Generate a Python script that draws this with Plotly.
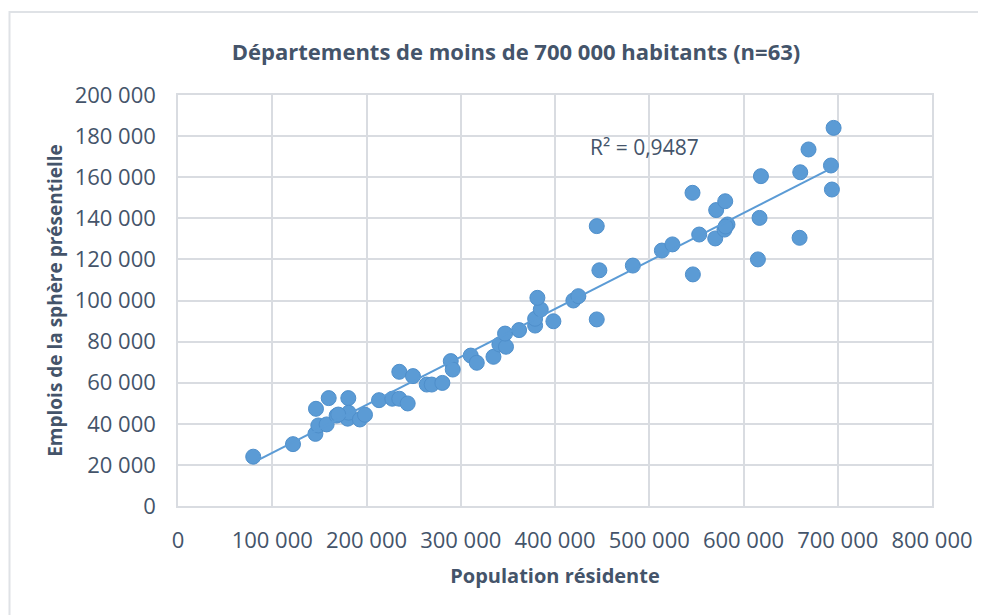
import numpy as np
import plotly.graph_objects as go

# Population résidente (x) and Emplois de la sphère présentielle (y)
population = [
    79800, 122000, 145800, 148900, 157700, 146400, 159900, 180700, 168300, 180000,
    181100, 193000, 198400, 213300, 227400, 234800, 243700, 234800, 249300, 263900,
    269200, 280500, 289400, 291500, 310600, 317000, 334700, 341000, 348000, 347000,
    361900, 378900, 378900, 384900, 381300, 398300, 419500, 424800, 444300, 447100,
    444300, 482600, 513400, 524600, 553000, 546300, 545900, 570000, 571000, 580600,
    579800, 583000, 581000, 615300, 617000, 618500, 659500, 660200, 669000, 692800,
    693800, 695600, 170000,
]
emplois = [
    24000, 30100, 35100, 39200, 39700, 47300, 52500, 52500, 44000, 42500,
    45400, 42100, 44400, 51500, 52200, 52200, 49900, 65300, 63200, 59100,
    59100, 59900, 70500, 66400, 73200, 69700, 72600, 78600, 77500, 83900,
    85600, 87800, 91100, 95600, 101300, 89900, 100000, 102100, 90800, 114700,
    136200, 117000, 124300, 127300, 132100, 112700, 152400, 130200, 144000, 148300,
    134500, 137000, 136000, 120000, 140200, 160500, 130500, 162400, 173500, 165700,
    154000, 184000, 44500,
]

x_tickvals = [0, 100000, 200000, 300000, 400000, 500000, 600000, 700000, 800000]
x_ticktext = ["0", "100 000", "200 000", "300 000", "400 000", "500 000",
              "600 000", "700 000", "800 000"]
y_tickvals = [0, 20000, 40000, 60000, 80000, 100000, 120000, 140000, 160000,
              180000, 200000]
y_ticktext = ["0", "20 000", "40 000", "60 000", "80 000", "100 000", "120 000",
              "140 000", "160 000", "180 000", "200 000"]

r2_label = "R² = 0,9487"

xa = np.array(population, dtype=float)
ya = np.array(emplois, dtype=float)
slope, intercept = np.polyfit(xa, ya, 1)
tx = np.array([xa.min(), xa.max()])
ty = slope * tx + intercept

TEXT = "#44546A"
GRID = "#D9DCE1"
BLUE = "#5B9BD5"
FONT = "Open Sans"

fig = go.Figure()
fig.add_trace(go.Scatter(
    x=population, y=emplois, mode="markers",
    marker=dict(size=15, color=BLUE, line=dict(color="#4F8FCB", width=1)),
    showlegend=False, hoverinfo="x+y",
))
fig.add_trace(go.Scatter(
    x=tx, y=ty, mode="lines",
    line=dict(color=BLUE, width=2),
    showlegend=False, hoverinfo="skip",
))

# page body has an 8px default margin: figure drawn from (8, 8)
O = 8
FW, FH = 986 - O, 615 - O
L, T = 178 - O, 95 - O
R = 986 - 932
B = 615 - 506.5
W = FW - L - R
H = FH - T - B

def px_x(p):
    return (p - O - L) / W

def px_y(p):
    return (FH - B - (p - O)) / H

fig.update_layout(
    width=FW, height=FH,
    margin=dict(l=L, r=R, t=T, b=B),
    paper_bgcolor="white", plot_bgcolor="white",
    font=dict(family=FONT, color=TEXT),
    title=dict(
        text="<b>Départements de moins de 700 000 habitants (n=63)</b>",
        x=(516 - O) / FW, xref="container", xanchor="center",
        y=1 - (52 - O) / FH, yref="container", yanchor="middle",
        font=dict(family=FONT, size=22, color=TEXT),
    ),
    xaxis=dict(
        range=[0, 800000], tickvals=x_tickvals, ticktext=x_ticktext,
        showgrid=True, gridcolor=GRID, gridwidth=1.5,
        zeroline=False, showline=True, linecolor=GRID, linewidth=1.5, mirror=True,
        ticks="outside", ticklen=14, tickcolor="rgba(0,0,0,0)",
        tickfont=dict(family=FONT, size=22, color=TEXT),
        title=dict(text="<b>Population résidente</b>",
                   font=dict(family=FONT, size=20, color=TEXT), standoff=16),
    ),
    yaxis=dict(
        range=[0, 200000], tickvals=y_tickvals, ticktext=y_ticktext,
        showgrid=True, gridcolor=GRID, gridwidth=1.5,
        zeroline=False, showline=True, linecolor=GRID, linewidth=1.5, mirror=True,
        ticks="outside", ticklen=16, tickcolor="rgba(0,0,0,0)",
        tickfont=dict(family=FONT, size=22, color=TEXT),
        title=dict(text="<b>Emplois de la sphère présentielle</b>",
                   font=dict(family=FONT, size=19, color=TEXT), standoff=7),
    ),
    annotations=[dict(
        x=494600, y=174900, xref="x", yref="y", text=r2_label,
        showarrow=False, font=dict(family=FONT, size=21, color=TEXT),
        xanchor="center", yanchor="middle",
    )],
    shapes=[dict(
        type="rect", xref="paper", yref="paper",
        x0=px_x(9.5), x1=px_x(1010), y0=px_y(640), y1=px_y(12),
        line=dict(color="#DFE2E6", width=2), fillcolor="rgba(0,0,0,0)",
        layer="below",
    )],
)

fig.write_html("out.html")
